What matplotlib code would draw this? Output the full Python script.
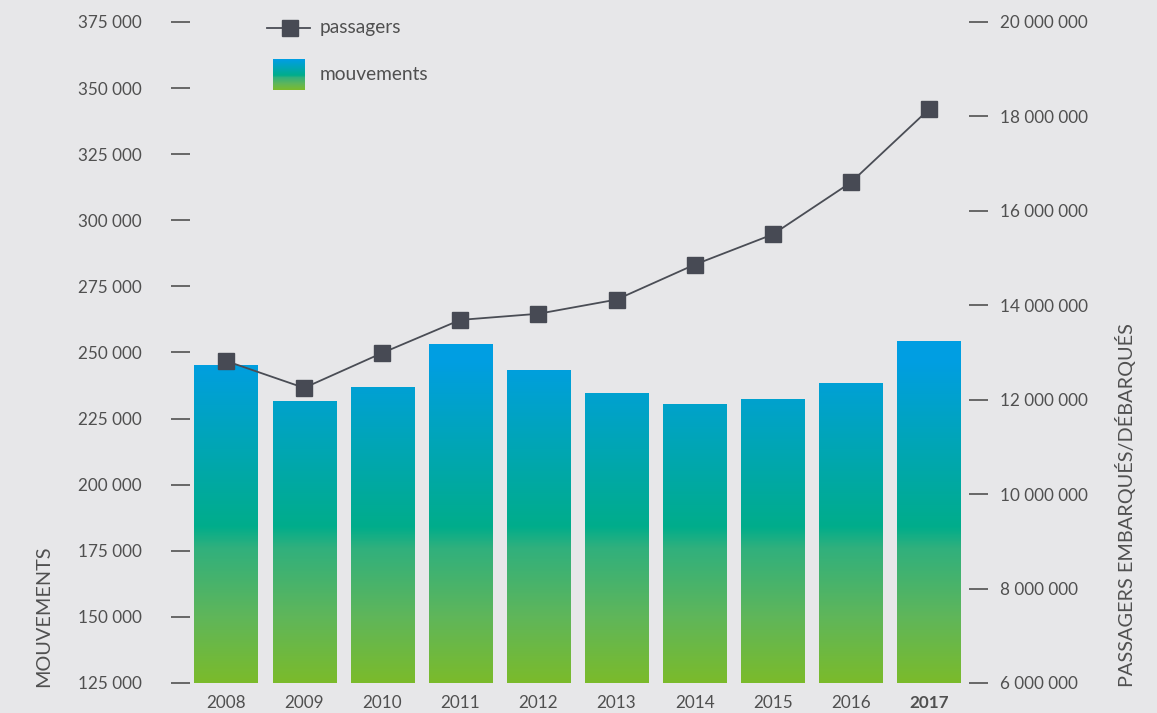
import numpy as np
import matplotlib
matplotlib.use("Agg")
import matplotlib.pyplot as plt
from matplotlib.colors import LinearSegmentedColormap
from matplotlib.lines import Line2D

# data
years = ['2008', '2009', '2010', '2011', '2012', '2013', '2014', '2015', '2016', '2017']
mouvements = [245300, 231700, 236900, 253200, 243400, 234700, 230500, 232400, 238500, 254300]
passagers = [12820000, 12250000, 12990000, 13690000, 13820000, 14120000, 14860000, 15500000, 16600000, 18150000]
left_ticks = [125000, 150000, 175000, 200000, 225000, 250000, 275000, 300000, 325000, 350000, 375000]
right_ticks = [6000000, 8000000, 10000000, 12000000, 14000000, 16000000, 18000000, 20000000]

bg = '#e7e7e9'
txt = '#505050'
dark = '#474a54'

plt.rcParams['font.family'] = ['Lato', 'DejaVu Sans']

def fmt(v):
    return f"{v:,}".replace(',', ' ')

# gradient by absolute height
lo, hi = 125000, 260000
stops = [(125000, '#7bbb2b'), (150000, '#5fb65a'), (176000, '#30b07d'), (184000, '#00ad8b'),
         (247000, '#009ee2'), (260000, '#009fe3')]
cmap = LinearSegmentedColormap.from_list('grad', [((v - lo) / (hi - lo), c) for v, c in stops])
grad = np.linspace(0, 1, 512).reshape(-1, 1)

fig = plt.figure(figsize=(11.57, 7.13), dpi=100, facecolor=bg)
ax = fig.add_axes([0.1478, 0.0421, 0.7061, 0.9271])
ax.set_facecolor(bg)
x = np.arange(len(years))

bars = ax.bar(x, mouvements, width=0.81, bottom=0, color='none')
for b in bars:
    im = ax.imshow(grad, cmap=cmap, origin='lower', aspect='auto',
                   extent=(-1, 11, lo, hi), zorder=2)
    im.set_clip_path(b)

ax.set_xlim(-0.705, 9.756)
ax.set_ylim(125000, 375000)
ax.set_yticks(left_ticks)
ax.set_yticklabels([fmt(v) for v in left_ticks])
ax.set_xticks(x)
ax.set_xticklabels(years)
ax.get_xticklabels()[-1].set_fontweight('bold')
ax.get_xticklabels()[-1].set_color('#333333')
ax.tick_params(axis='y', direction='in', length=13.7, width=1.1, color='#444444',
               pad=20.9, labelsize=12.3, labelcolor=txt)
ax.tick_params(axis='x', length=0, pad=9, labelsize=12.3, labelcolor=txt)
for s in ax.spines.values():
    s.set_visible(False)

ax2 = ax.twinx()
ax2.plot(x, passagers, color='#4a4d55', lw=1.3, marker='s', markersize=12,
         markerfacecolor=dark, markeredgecolor=dark, zorder=5)
ax2.set_ylim(6000000, 20000000)
ax2.set_yticks(right_ticks)
ax2.set_yticklabels([fmt(v) for v in right_ticks])
ax2.tick_params(axis='y', direction='in', length=13.7, width=1.1, color='#444444',
                pad=8.6, labelsize=12.3, labelcolor=txt)
for s in ax2.spines.values():
    s.set_visible(False)

# axis titles
fig.text(44 / 1157, (713 - 687) / 713, 'MOUVEMENTS', rotation=90, ha='center', va='bottom',
         fontsize=14.3, color=txt)
fig.text(1125 / 1157, (713 - 687) / 713, 'PASSAGERS EMBARQUÉS/DÉBARQUÉS', rotation=90,
         ha='center', va='bottom', fontsize=14.3, color=txt)

# legend
ly = (713 - 28) / 713
fig.add_artist(Line2D([267 / 1157, 310 / 1157], [ly, ly], color='#4a4d55', lw=1.3,
                      transform=fig.transFigure))
fig.add_artist(Line2D([290 / 1157], [ly], marker='s', markersize=12, color=dark,
                      transform=fig.transFigure))
fig.text(320 / 1157, ly, 'passagers', va='center', ha='left', fontsize=13.8, color=txt)
lax = fig.add_axes([273 / 1157, (713 - 90) / 713, 32 / 1157, 31 / 713])
lgrad_vals = np.linspace(125000, 250000, 256).reshape(-1, 1)
lax.imshow((lgrad_vals - lo) / (hi - lo), cmap=cmap, vmin=0, vmax=1, origin='lower', aspect='auto')
lax.axis('off')
fig.text(320 / 1157, (713 - 74) / 713, 'mouvements', va='center', ha='left', fontsize=13.8, color=txt)

fig.savefig('out.png', dpi=100, facecolor=bg)
